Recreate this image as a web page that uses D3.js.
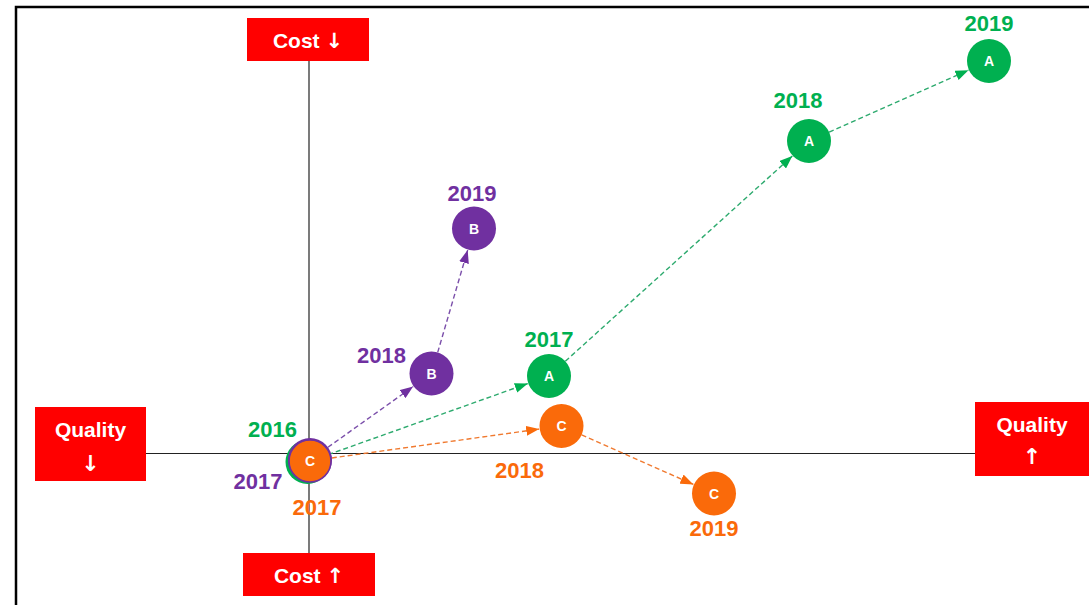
<!DOCTYPE html>
<html>
<head>
<meta charset="utf-8">
<script src="https://cdn.jsdelivr.net/npm/d3@7"></script>
<style>
  html, body { margin: 0; padding: 0; background: #fff; }
  svg { display: block; }
  text { font-family: "Liberation Sans", Arial, "DejaVu Sans", sans-serif; font-weight: bold; }
  .arrow { font-family: "DejaVu Sans", sans-serif; font-weight: bold; }
</style>
</head>
<body>
<svg id="chart" width="1089" height="605"></svg>
<script>
// ---- data ----
const seriesNames = ["A", "B", "C"];
const years = {
  A: ["2016", "2017", "2018", "2019"],
  B: ["2017", "2018", "2019"],
  C: ["2017", "2018", "2019"]
};
// quality (x, higher = better) and cost (y, higher = cost down)
const qualityValues = {
  A: [-0.06, 9.6, 20.0, 27.2],
  B: [0.04, 4.9, 6.6],
  C: [0.04, 10.1, 16.2]
};
const costValues = {
  A: [-0.34, 3.1, 12.5, 15.7],
  B: [-0.26, 3.2, 9.0],
  C: [-0.3, 1.1, -1.6]
};
const axisLabels = { cost: "Cost", quality: "Quality", down: "↓", up: "↑" };

// ---- styling / layout ----
const colors = { A: "#00B050", B: "#7030A0", C: "#FA6A0A" };
const lineColors = { A: "#2DAA6E", B: "#7B4FAA", C: "#F07A30" };
const labelOffsets = {
  A: [[-35, -25], [0, -29], [-11, -33], [0, -30]],
  B: [[-52, 29], [-50, -11], [-2, -28]],
  C: [[7, 54], [-42, 52], [0, 42]]
};
const R = 22;

const svg = d3.select("#chart");
const x = d3.scaleLinear().domain([-11.8, 31.2]).range([14, 1089]);
const y = d3.scaleLinear().domain([-6, 18]).range([603.5, 3.5]);

// frame (top and left borders)
svg.append("path")
  .attr("d", "M16,605 L16,7 L1089,7")
  .attr("fill", "none").attr("stroke", "#000").attr("stroke-width", 2.5);

const x0 = x(0), y0 = y(0);

// axes
svg.append("line").attr("x1", x0).attr("x2", x0).attr("y1", 61).attr("y2", 553)
  .attr("stroke", "#222").attr("stroke-width", 1.2);
svg.append("line").attr("x1", 146).attr("x2", 975).attr("y1", y0).attr("y2", y0)
  .attr("stroke", "#222").attr("stroke-width", 1.2);

// axis boxes
const red = "#FF0000";
function box(x1, y1, w, h, word, arrow, inline, baselines) {
  const g = svg.append("g");
  g.append("rect").attr("x", x1).attr("y", y1).attr("width", w).attr("height", h).attr("fill", red);
  if (inline) {
    const t = g.append("text").attr("x", x1 + w / 2).attr("y", baselines[0])
      .attr("text-anchor", "middle").attr("fill", "#fff").attr("font-size", 21);
    t.append("tspan").text(word + " ");
    t.append("tspan").attr("class", "arrow").attr("font-size", 21).text(arrow);
  } else {
    g.append("text").attr("x", x1 + w / 2).attr("y", baselines[0])
      .attr("text-anchor", "middle").attr("fill", "#fff").attr("font-size", 21).text(word);
    g.append("text").attr("class", "arrow").attr("x", x1 + w / 2).attr("y", baselines[1])
      .attr("text-anchor", "middle").attr("fill", "#fff").attr("font-size", 22).text(arrow);
  }
}
box(x0 - 62, 18, 122, 43, axisLabels.cost, axisLabels.down, true, [48]);
box(x0 - 66, 553, 132, 43, axisLabels.cost, axisLabels.up, true, [583]);
box(35, 407, 111, 74, axisLabels.quality, axisLabels.down, false, [437, 471]);
box(975, 402, 114, 74, axisLabels.quality, axisLabels.up, false, [432, 464]);

// markers
const defs = svg.append("defs");
seriesNames.forEach(s => {
  defs.append("marker").attr("id", "arrow-" + s)
    .attr("viewBox", "0 0 13 10").attr("refX", 13).attr("refY", 5)
    .attr("markerWidth", 13).attr("markerHeight", 10)
    .attr("markerUnits", "userSpaceOnUse").attr("orient", "auto")
    .append("path").attr("d", "M0,0 L13,5 L0,10 Z").attr("fill", colors[s]);
});

// build points
const pts = {};
seriesNames.forEach(s => {
  pts[s] = years[s].map((yr, i) => ({
    s, yr, i, px: x(qualityValues[s][i]), py: y(costValues[s][i])
  }));
});

// arrows
const gLines = svg.append("g");
seriesNames.forEach(s => {
  const p = pts[s];
  for (let i = 0; i < p.length - 1; i++) {
    const a = p[i], b = p[i + 1];
    const dx = b.px - a.px, dy = b.py - a.py, L = Math.hypot(dx, dy);
    const ux = dx / L, uy = dy / L;
    gLines.append("line")
      .attr("x1", a.px + ux * R).attr("y1", a.py + uy * R)
      .attr("x2", b.px - ux * (R + 0.5)).attr("y2", b.py - uy * (R + 0.5))
      .attr("stroke", lineColors[s]).attr("stroke-width", 1.4)
      .attr("stroke-dasharray", "5,3")
      .attr("marker-end", "url(#arrow-" + s + ")");
  }
});

// circles
const gPts = svg.append("g");
seriesNames.forEach(s => {
  pts[s].forEach(p => {
    const isOriginC = (s === "C" && p.i === 0);
    gPts.append("circle").attr("cx", p.px).attr("cy", p.py)
      .attr("r", isOriginC ? 21 : R)
      .attr("fill", colors[s])
      .attr("stroke", isOriginC ? colors.B : "none")
      .attr("stroke-width", isOriginC ? 1.6 : 0);
  });
});
// letters (only on top-most at origin)
seriesNames.forEach(s => {
  pts[s].forEach(p => {
    if (p.i === 0 && s !== "C") return;
    gPts.append("text").attr("x", p.px).attr("y", p.py + 5)
      .attr("text-anchor", "middle").attr("fill", "#fff").attr("font-size", 14)
      .text(s);
  });
});

// year labels
const gLab = svg.append("g");
seriesNames.forEach(s => {
  pts[s].forEach(p => {
    const [dx, dy] = labelOffsets[s][p.i];
    gLab.append("text").attr("x", p.px + dx).attr("y", p.py + dy)
      .attr("text-anchor", "middle").attr("fill", colors[s]).attr("font-size", 22)
      .text(p.yr);
  });
});
</script>
</body>
</html>
